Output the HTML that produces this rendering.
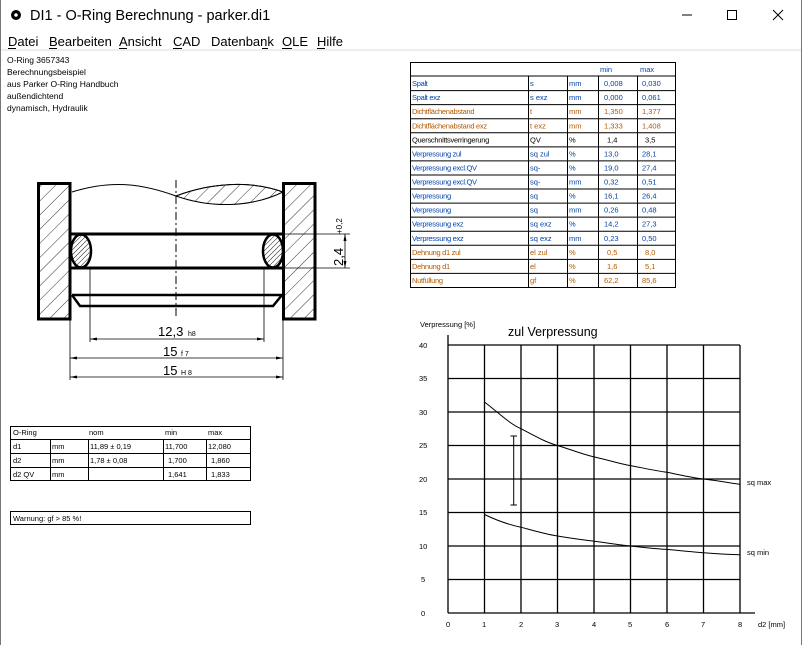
<!DOCTYPE html>
<html><head><meta charset="utf-8">
<style>
html,body{margin:0;padding:0;background:#fff;}
body{width:802px;height:645px;overflow:hidden;position:relative;font-family:"Liberation Sans",sans-serif;}
</style></head><body>
<svg width="802" height="645" viewBox="0 0 802 645" xmlns="http://www.w3.org/2000/svg" style="position:absolute;left:0;top:0" font-family="Liberation Sans, sans-serif">
<defs>
<pattern id="h" width="10" height="10" patternUnits="userSpaceOnUse" patternTransform="rotate(45)">
<line x1="0" y1="0" x2="0" y2="10" stroke="#000" stroke-width="0.8"/>
</pattern>
<pattern id="h2" width="3.5" height="3.5" patternUnits="userSpaceOnUse" patternTransform="rotate(45)">
<line x1="0" y1="0" x2="0" y2="3.5" stroke="#000" stroke-width="0.9"/>
</pattern>
</defs>
<rect x="0" y="0" width="802" height="645" fill="#fff"/>
<line x1="0.5" y1="0" x2="0.5" y2="645" stroke="#777"/>
<line x1="801.5" y1="0" x2="801.5" y2="645" stroke="#777"/>
<circle cx="16" cy="15" r="5" fill="#000"/><circle cx="16" cy="15" r="1.8" fill="#fff"/>
<text x="30" y="20" font-size="14.5">DI1 - O-Ring Berechnung  -  parker.di1</text>
<line x1="682" y1="15" x2="692" y2="15" stroke="#000"/>
<rect x="727.5" y="10.5" width="9" height="9" fill="none" stroke="#000"/>
<path d="M773 10 L783 20 M783 10 L773 20" stroke="#000"/>
<g font-size="13">
<text x="8" y="46">Datei</text><text x="49" y="46">Bearbeiten</text><text x="119" y="46">Ansicht</text><text x="173" y="46">CAD</text><text x="211" y="46">Datenbank</text><text x="282" y="46">OLE</text><text x="317" y="46">Hilfe</text>
</g>
<g stroke="#000" stroke-width="1">
<line x1="8" y1="48.5" x2="16" y2="48.5"/><line x1="49" y1="48.5" x2="57" y2="48.5"/><line x1="119" y1="48.5" x2="127" y2="48.5"/><line x1="173" y1="48.5" x2="182" y2="48.5"/><line x1="262" y1="48.5" x2="268" y2="48.5"/><line x1="282" y1="48.5" x2="292" y2="48.5"/><line x1="317" y1="48.5" x2="325" y2="48.5"/>
</g>
<rect x="1" y="49" width="800" height="2" fill="#eee"/>
<g font-size="8.5">
<text x="7" y="63">O-Ring  3657343</text>
<text x="7" y="75">Berechnungsbeispiel</text>
<text x="7" y="87">aus Parker O-Ring Handbuch</text>
<text x="7" y="99">außendichtend</text>
<text x="7" y="111">dynamisch, Hydraulik</text>
</g>
<g stroke="#000" stroke-width="1" fill="none">
<rect x="410.5" y="62.5" width="265" height="225"/>
<line x1="410" y1="76" x2="676" y2="76"/>
</g>
<g id="rows"></g>
<g stroke="#000" fill="none">
<rect x="38.5" y="183.5" width="31.5" height="135.5" stroke-width="3" fill="url(#h)"/>
<rect x="283.5" y="183.5" width="31.5" height="135.5" stroke-width="3" fill="url(#h)"/>
<path d="M72 192 C110 180,140 183,176 196 C210 183,250 180,283 192" stroke-width="1"/>
<path d="M176 196 C210 208,250 208,283 192 C250 180,210 183,176 196Z" stroke-width="1" fill="url(#h)"/>
<line x1="176" y1="180" x2="176" y2="318" stroke-dasharray="8,3,2,3" stroke-width="1"/>
<line x1="70" y1="234" x2="283" y2="234" stroke-width="3"/>
<line x1="70" y1="268" x2="283" y2="268" stroke-width="3"/>
<ellipse cx="81" cy="251" rx="10" ry="16.5" stroke-width="2.5" fill="url(#h2)"/>
<ellipse cx="273" cy="251" rx="10" ry="16.5" stroke-width="2.5" fill="url(#h2)"/>
<line x1="72" y1="295" x2="282" y2="295" stroke-width="2.5"/>
<path d="M72 295 L80 306 L273 306 L282 295" stroke-width="2.5"/>
<g stroke-width="0.8">
<line x1="90" y1="268" x2="90" y2="342"/><line x1="264" y1="268" x2="264" y2="342"/>
<line x1="70" y1="320" x2="70" y2="380"/><line x1="283" y1="320" x2="283" y2="380"/>
<line x1="90" y1="339" x2="264" y2="339"/>
<line x1="70" y1="358" x2="283" y2="358"/>
<line x1="70" y1="377" x2="283" y2="377"/>
<line x1="283" y1="234" x2="350" y2="234"/><line x1="283" y1="268" x2="350" y2="268"/>
<line x1="345" y1="234" x2="345" y2="268"/>
</g>
<g fill="#000" stroke="none">
<path d="M90 339 l7 -1.5 v3z M264 339 l-7 -1.5 v3z M70 358 l7 -1.5 v3z M283 358 l-7 -1.5 v3z M70 377 l7 -1.5 v3z M283 377 l-7 -1.5 v3z M345 234 l-1.5 7 h3z M345 268 l-1.5 -7 h3z"/>
</g>
</g>
<g font-size="13">
<text x="158" y="336">12,3</text><text x="188" y="336" font-size="7">h8</text>
<text x="163" y="356">15</text><text x="181" y="356" font-size="7">f 7</text>
<text x="163" y="375">15</text><text x="181" y="375" font-size="7">H 8</text>
<text transform="translate(343,266) rotate(-90)">2,4</text>
<text transform="translate(342,234) rotate(-90)" font-size="8">+0,2</text>
</g>
<g stroke="#000" fill="none">
<rect x="10.5" y="426.5" width="240" height="54"/>
<line x1="10" y1="439.5" x2="250" y2="439.5"/><line x1="10" y1="453.5" x2="250" y2="453.5"/><line x1="10" y1="467.5" x2="250" y2="467.5"/>
<line x1="50.5" y1="439" x2="50.5" y2="481"/><line x1="88.5" y1="439" x2="88.5" y2="481"/><line x1="163.5" y1="439" x2="163.5" y2="481"/><line x1="206.5" y1="439" x2="206.5" y2="481"/>
<rect x="10.5" y="511.5" width="240" height="13"/>
</g>
<g font-size="7.5">
<text x="13" y="435">O-Ring</text><text x="89" y="435">nom</text><text x="165" y="435">min</text><text x="208" y="435">max</text>
<text x="13" y="449">d1</text><text x="52" y="449">mm</text><text x="90" y="449">11,89 ± 0,19</text><text x="165" y="449">11,700</text><text x="208" y="449">12,080</text>
<text x="13" y="463">d2</text><text x="52" y="463">mm</text><text x="90" y="463">1,78 ± 0,08</text><text x="168" y="463">1,700</text><text x="211" y="463">1,860</text>
<text x="13" y="477">d2 QV</text><text x="52" y="477">mm</text><text x="168" y="477">1,641</text><text x="211" y="477">1,833</text>
<text x="13" y="521">Warnung: gf &gt; 85 %!</text>
</g>
<g stroke="#000" stroke-width="1.3">
<line x1="448" y1="345" x2="740" y2="345"/><line x1="448" y1="378.5" x2="740" y2="378.5"/><line x1="448" y1="412" x2="740" y2="412"/><line x1="448" y1="445.5" x2="740" y2="445.5"/><line x1="448" y1="479" x2="740" y2="479"/><line x1="448" y1="512.5" x2="740" y2="512.5"/><line x1="448" y1="546" x2="740" y2="546"/><line x1="448" y1="579.5" x2="740" y2="579.5"/><line x1="448" y1="613" x2="755" y2="613"/>
<line x1="448" y1="335" x2="448" y2="613"/><line x1="484.5" y1="345" x2="484.5" y2="613"/><line x1="521" y1="345" x2="521" y2="613"/><line x1="557.5" y1="345" x2="557.5" y2="613"/><line x1="594" y1="345" x2="594" y2="613"/><line x1="630.5" y1="345" x2="630.5" y2="613"/><line x1="667" y1="345" x2="667" y2="613"/><line x1="703.5" y1="345" x2="703.5" y2="613"/><line x1="740" y1="345" x2="740" y2="613"/>
</g>
<g stroke="#000" fill="none" stroke-width="1">
<path d="M484.5 402 C500 414,510 424,521 428.7 C535 436,545 442,557.5 445.5 C575 451,585 455,594 456.9 C612 461,620 464,630.5 465.6 C648 469,657 471,667 472.3 C685 476,693 478,703.5 479 C720 481,730 483,740 484.4"/>
<path d="M484.5 514.5 C498 521,510 525,521 527.2 C535 531,545 534,557.5 536 C575 539,585 540,594 541.3 C612 543.5,620 545,630.5 546 C648 548,657 549,667 549.4 C685 551,693 552,703.5 552.7 C720 554,730 554.5,740 554.7"/>
<line x1="513.7" y1="436" x2="513.7" y2="505"/><line x1="510.5" y1="436" x2="517" y2="436"/><line x1="510.5" y1="505" x2="517" y2="505"/>
</g>
<g font-size="7.5" fill="#000">
<text x="420" y="327">Verpressung [%]</text>
<text x="508" y="336" font-size="12.5">zul Verpressung</text>
<text x="419" y="348">40</text><text x="419" y="381">35</text><text x="419" y="415">30</text><text x="419" y="448">25</text><text x="419" y="482">20</text><text x="419" y="515">15</text><text x="419" y="549">10</text><text x="421" y="582">5</text><text x="421" y="616">0</text>
<text x="446" y="627">0</text><text x="482" y="627">1</text><text x="519" y="627">2</text><text x="555" y="627">3</text><text x="592" y="627">4</text><text x="628" y="627">5</text><text x="665" y="627">6</text><text x="701" y="627">7</text><text x="738" y="627">8</text>
<text x="758" y="627">d2 [mm]</text>
<text x="747" y="485">sq max</text><text x="747" y="555">sq min</text>
</g>
</svg>
<script>
var rows=[["Spalt","s","mm","0,008","0,030"],["Spalt exz","s exz","mm","0,000","0,061"],["Dichtflächenabstand","t","mm","1,350","1,377"],["Dichtflächenabstand exz","t exz","mm","1,333","1,408"],["Querschnittsverringerung","QV","%","1,4","3,5"],["Verpressung zul","sq zul","%","13,0","28,1"],["Verpressung excl.QV","sq-","%","19,0","27,4"],["Verpressung excl.QV","sq-","mm","0,32","0,51"],["Verpressung","sq","%","16,1","26,4"],["Verpressung","sq","mm","0,26","0,48"],["Verpressung exz","sq exz","%","14,2","27,3"],["Verpressung exz","sq exz","mm","0,23","0,50"],["Dehnung d1 zul","el zul","%","0,5","8,0"],["Dehnung d1","el","%","1,6","5,1"],["Nutfüllung","gf","%","62,2","85,6"]];
var cols=["#0044aa","#0044aa","#b35900","#b35900","#000","#0044aa","#0044aa","#0044aa","#0044aa","#0044aa","#0044aa","#0044aa","#b35900","#b35900","#b35900"];
var ns="http://www.w3.org/2000/svg",g=document.getElementById("rows");
function el(n,a,t){var e=document.createElementNS(ns,n);for(var k in a)e.setAttribute(k,a[k]);if(t)e.textContent=t;g.appendChild(e);return e;}
var h=(287-76)/15;
el("text",{x:600,y:72,"font-size":"7.5",fill:"#0044aa"},"min");el("text",{x:640,y:72,"font-size":"7.5",fill:"#0044aa"},"max");
for(var i=0;i<15;i++){var y=76+i*h;
 if(i>0)el("line",{x1:410,y1:y+0.5,x2:676,y2:y+0.5,stroke:"#000"});
 [528.5,567.5,598.5,637.5].forEach(function(x){el("line",{x1:x,y1:y,x2:x,y2:y+h,stroke:"#000"});});
 var ty=y+h-4,r=rows[i],c=cols[i];
 el("text",{x:412,y:ty,"font-size":"7.5",fill:c,"letter-spacing":"-0.3"},r[0]);
 el("text",{x:530,y:ty,"font-size":"7.5",fill:c},r[1]);
 el("text",{x:569,y:ty,"font-size":"7.5",fill:c},r[2]);
 el("text",{x:i==4||i==12||i==13?607:604,y:ty,"font-size":"7.5",fill:c},r[3]);
 el("text",{x:i==4||i==12||i==13?645:642,y:ty,"font-size":"7.5",fill:c},r[4]);
}
</script>
</body></html>
